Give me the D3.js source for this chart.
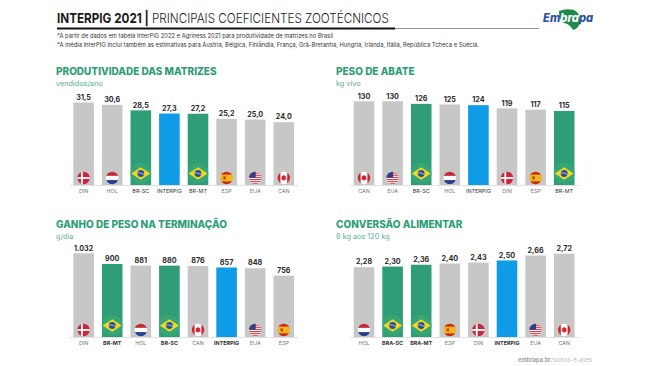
<!DOCTYPE html>
<html>
<head>
<meta charset="utf-8">
<script src="https://cdn.jsdelivr.net/npm/d3@7"></script>
<style>
  html, body { margin: 0; background: #fff; }
  text { font-family: Inter, "Open Sans", sans-serif; }
</style>
</head>
<body>
<div id="chart"></div>
<script>
// values
const prodCategories = ['DIN', 'HOL', 'BR-SC', 'INTERPIG', 'BR-MT', 'ESP', 'EUA', 'CAN'];
const prodValues = [31.5, 30.6, 28.5, 27.3, 27.2, 25.2, 25.0, 24.0];
const prodFlags = ['dk', 'nl', 'br', null, 'br', 'es', 'us', 'ca'];

const pesoCategories = ['CAN', 'EUA', 'BR-SC', 'HOL', 'INTERPIG', 'DIN', 'ESP', 'BR-MT'];
const pesoValues = [130, 130, 126, 125, 124, 119, 117, 115];
const pesoFlags = ['ca', 'us', 'br', 'nl', null, 'dk', 'es', 'br'];

const ganhoCategories = ['DIN', 'BR-MT', 'HOL', 'BR-SC', 'CAN', 'INTERPIG', 'EUA', 'ESP'];
const ganhoValues = [1032, 900, 881, 880, 876, 857, 848, 756];
const ganhoFlags = ['dk', 'br', 'nl', 'br', 'ca', null, 'us', 'es'];

const convCategories = ['HOL', 'BRA-SC', 'BRA-MT', 'ESP', 'DIN', 'INTERPIG', 'EUA', 'CAN'];
const convValues = [2.28, 2.30, 2.36, 2.40, 2.43, 2.50, 2.66, 2.72];
const convFlags = ['nl', 'br', 'br', 'es', 'dk', null, 'us', 'ca'];

const width = 650;
const height = 366;
const green = '#2f9e77';
const blue = '#0f9be6';
const gray = '#c7c7c7';

const locale = d3.formatLocale({ decimal: ',', thousands: '.', grouping: [3], currency: ['', ''] });

const svg = d3.select('#chart')
  .append('svg')
  .attr('width', width)
  .attr('height', height)
  .style('display', 'block');

const defs = svg.append('defs');
defs.append('clipPath').attr('id', 'round')
  .append('circle').attr('r', 6.2);

// header, narrowed to the width of the original lettering
svg.append('text')
  .attr('transform', 'translate(57,23) scale(0.86,1)')
  .attr('font-size', 13.6).attr('font-weight', 700)
  .attr('fill', '#1a1a1a')
  .text('INTERPIG 2021 |');
svg.append('text')
  .attr('transform', 'translate(152,23) scale(0.86,1)')
  .attr('font-size', 13.6).attr('font-weight', 300)
  .attr('fill', '#1a1a1a')
  .text('PRINCIPAIS COEFICIENTES ZOOTÉCNICOS');

svg.append('line').attr('x1', 57).attr('x2', 539).attr('y1', 28.5).attr('y2', 28.5)
  .attr('stroke', '#777').attr('stroke-width', 0.8);
svg.append('line').attr('x1', 57).attr('x2', 395).attr('y1', 28.5).attr('y2', 28.5)
  .attr('stroke', '#111').attr('stroke-width', 1.8);

svg.append('text').attr('x', 57).attr('y', 37.8).attr('font-size', 5.6).attr('fill', '#333')
  .attr('textLength', 276).attr('lengthAdjust', 'spacingAndGlyphs')
  .text('*A partir de dados em tabela InterPIG 2022 e Agriness 2021 para produtividade de matrizes no Brasil');
svg.append('text').attr('x', 57).attr('y', 46.8).attr('font-size', 5.6).attr('fill', '#333')
  .attr('textLength', 422).attr('lengthAdjust', 'spacingAndGlyphs')
  .text('*A média InterPIG inclui também as estimativas para Áustria, Bélgica, Finlândia, França, Grã-Bretanha, Hungria, Irlanda, Itália, República Tcheca e Suécia.');

// logo
const logo = svg.append('g');
logo.append('path')
  .attr('d', 'M559 11 Q566 8 574 10 Q580 13 580 20 Q580 28 573 30 Q570 24 564 23 Q559 20 559 11 Z')
  .attr('fill', '#1f8a4c');
const logoText = logo.append('text')
  .attr('x', 543).attr('y', 21.5)
  .attr('font-size', 11.2).attr('font-weight', 800).attr('font-style', 'italic');
logoText.append('tspan').attr('fill', '#2b4f9e').text('Em');
logoText.append('tspan').attr('fill', '#fff').text('bra');
logoText.append('tspan').attr('fill', '#2b4f9e').text('pa');

// footer
const footer = svg.append('text').attr('x', 592).attr('y', 362)
  .attr('text-anchor', 'end').attr('font-size', 5.8).attr('fill', '#bbb');
footer.append('tspan').attr('font-weight', 600).attr('fill', '#999').text('embrapa.br');
footer.append('tspan').text('/suinos-e-aves');

function drawFlag(g, code) {
  if (code === 'br') {
    g.attr('transform', 'translate(0,-11.5)');
    g.append('circle').attr('r', 10.5).attr('fill', '#3aa877').attr('opacity', 0.75);
    g.append('path').attr('d', 'M-9.5 0L0 -6.2L9.5 0L0 6.2Z').attr('fill', '#f1d81e');
    g.append('circle').attr('r', 3.4).attr('fill', '#2a4f96');
    g.append('path').attr('d', 'M-3.2 -0.6Q0 -1 3.2 1').attr('fill', 'none').attr('stroke', '#fff').attr('stroke-width', 0.6);
    return;
  }
  g.attr('transform', 'translate(0,-7)');
  const f = g.append('g').attr('clip-path', 'url(#round)');
  const rect = (x, y, w, h, c) => f.append('rect').attr('x', x).attr('y', y).attr('width', w).attr('height', h).attr('fill', c);
  if (code === 'dk') {
    rect(-7, -7, 14, 14, '#c8283e');
    rect(-7, -0.9, 14, 1.8, '#fff');
    rect(-2.6, -7, 1.8, 14, '#fff');
  } else if (code === 'nl') {
    rect(-7, -7, 14, 4.9, '#c22b38');
    rect(-7, -2.1, 14, 4.2, '#fff');
    rect(-7, 2.1, 14, 4.9, '#26408f');
  } else if (code === 'es') {
    rect(-7, -7, 14, 14, '#f2b41b');
    rect(-7, -7, 14, 3.6, '#c8281e');
    rect(-7, 3.4, 14, 3.6, '#c8281e');
    rect(-3.2, -1.6, 2.4, 3, '#b5461e');
  } else if (code === 'us') {
    rect(-7, -7, 14, 14, '#fff');
    d3.range(0, 7).forEach(i => rect(-7, -6.6 + i * 1.9, 14, 0.95, '#c8323e'));
    rect(-7, -7, 7.5, 6.6, '#2e3f87');
  } else if (code === 'ca') {
    rect(-7, -7, 14, 14, '#fff');
    rect(-7, -7, 3.6, 14, '#d2232f');
    rect(3.4, -7, 3.6, 14, '#d2232f');
    f.append('path').attr('d', 'M0 -3.6L1 -1.8L2.2 -2.2L1.8 0.4L3 0.2L2.4 1.6L0.3 1.9V3.2H-0.3V1.9L-2.4 1.6L-3 0.2L-1.8 0.4L-2.2 -2.2L-1 -1.8Z').attr('fill', '#d2232f');
  }
}

function drawPanel(opts) {
  const { left, titleY, base, barH, heading, unit, categories, values, flags, fmt, boldBr } = opts;
  const panel = svg.append('g');

  panel.append('text').attr('x', left.title).attr('y', titleY)
    .attr('font-size', 10).attr('font-weight', 800).attr('fill', green).text(heading);
  panel.append('text').attr('x', left.title).attr('y', titleY + 10.5)
    .attr('font-size', 7.3).attr('fill', '#5cae93').text(unit);

  const x = d3.scaleBand()
    .domain(categories)
    .range([left.bars, left.bars + 228.8])
    .paddingInner(0.28)
    .paddingOuter(0.14);

  const y = d3.scaleLinear()
    .domain([0, d3.max(values)])
    .range([base, base - barH]);

  const axis = panel.append('g')
    .attr('transform', `translate(0,${base})`)
    .call(d3.axisBottom(x).tickSize(0).tickPadding(4.5));
  axis.select('.domain').attr('stroke', '#ccc').attr('stroke-width', 0.6);
  axis.selectAll('text')
    .attr('font-size', 5.4)
    .attr('font-family', 'Inter, sans-serif')
    .attr('fill', d => (d === 'INTERPIG' || d.startsWith('BR')) ? '#333' : '#777')
    .attr('font-weight', d => (boldBr && (d === 'INTERPIG' || d.startsWith('BR'))) ? 700 : 400);

  const rows = categories.map((c, i) => ({ c, v: values[i], flag: flags[i] }));

  panel.selectAll('.bar').data(rows).join('rect')
    .attr('class', 'bar')
    .attr('x', d => x(d.c))
    .attr('y', d => y(d.v))
    .attr('width', x.bandwidth())
    .attr('height', d => y(0) - y(d.v))
    .attr('fill', d => d.c === 'INTERPIG' ? blue : d.c.startsWith('BR') ? green : gray);

  panel.selectAll('.val').data(rows).join('text')
    .attr('class', 'val')
    .attr('x', d => x(d.c) + x.bandwidth() / 2)
    .attr('y', d => y(d.v) - 2.8)
    .attr('text-anchor', 'middle')
    .attr('font-size', 7.2)
    .attr('font-weight', 700)
    .attr('fill', '#2a2a2a')
    .text(d => locale.format(fmt)(d.v));

  panel.selectAll('.flag').data(rows.filter(d => d.flag)).join('g')
    .attr('class', 'flag')
    .attr('transform', d => `translate(${x(d.c) + x.bandwidth() / 2},${base})`)
    .append('g')
    .each(function (d) { drawFlag(d3.select(this), d.flag); });
}

drawPanel({ left: { title: 56, bars: 69.3 }, titleY: 75, base: 185, barH: 82.5, heading: 'PRODUTIVIDADE DAS MATRIZES', unit: 'vendidos/ano', categories: prodCategories, values: prodValues, flags: prodFlags, fmt: '.1f', boldBr: false });
drawPanel({ left: { title: 336, bars: 349.7 }, titleY: 75, base: 185, barH: 83.7, heading: 'PESO DE ABATE', unit: 'kg vivo', categories: pesoCategories, values: pesoValues, flags: pesoFlags, fmt: 'd', boldBr: false });
drawPanel({ left: { title: 56, bars: 69.3 }, titleY: 228, base: 337, barH: 83.7, heading: 'GANHO DE PESO NA TERMINAÇÃO', unit: 'g/dia', categories: ganhoCategories, values: ganhoValues, flags: ganhoFlags, fmt: ',d', boldBr: true });
drawPanel({ left: { title: 336, bars: 349.7 }, titleY: 228, base: 337, barH: 83.3, heading: 'CONVERSÃO ALIMENTAR', unit: '8 kg aos 120 kg', categories: convCategories, values: convValues, flags: convFlags, fmt: '.2f', boldBr: true });
</script>
</body>
</html>
